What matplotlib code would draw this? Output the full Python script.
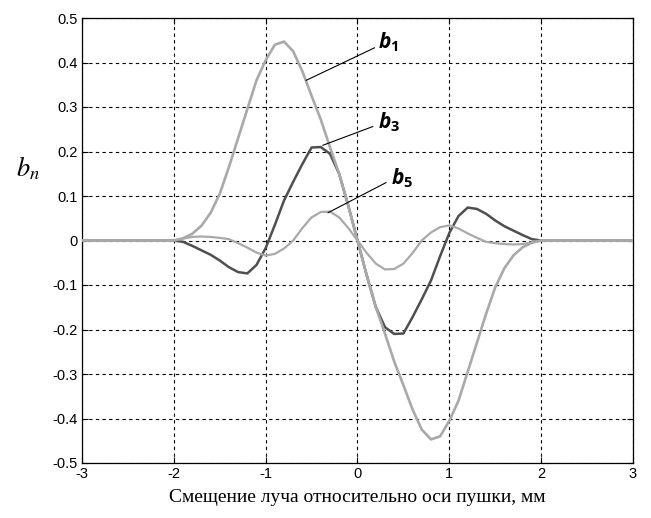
import matplotlib
matplotlib.use('Agg')
from matplotlib import pyplot as plt

# ----------------- Données ----------------- #
x = [-3.0, -2.0, -1.9, -1.8, -1.7, -1.6, -1.5, -1.4, -1.3, -1.2, -1.1, -1.0,
     -0.9, -0.8, -0.7, -0.6, -0.5, -0.4, -0.3, -0.2, -0.1, 0.0,
     0.1, 0.2, 0.3, 0.4, 0.5, 0.6, 0.7, 0.8, 0.9, 1.0,
     1.1, 1.2, 1.3, 1.4, 1.5, 1.6, 1.7, 1.8, 1.9, 2.0, 3.0]

b1 = [0.0, 0.0, 0.005, 0.015, 0.033, 0.062, 0.105, 0.165, 0.23, 0.295, 0.36, 0.405,
      0.44, 0.447, 0.425, 0.38, 0.325, 0.272, 0.21, 0.15, 0.078, 0.0,
      -0.078, -0.15, -0.21, -0.272, -0.325, -0.38, -0.425, -0.447, -0.44, -0.405,
      -0.36, -0.295, -0.23, -0.165, -0.105, -0.062, -0.033, -0.015, -0.005, 0.0, 0.0]

b3 = [0.0, 0.0, -0.003, -0.012, -0.022, -0.032, -0.045, -0.06, -0.071, -0.074, -0.055, -0.017,
      0.035, 0.09, 0.132, 0.172, 0.209, 0.21, 0.195, 0.15, 0.078, 0.0,
      -0.078, -0.15, -0.195, -0.21, -0.209, -0.172, -0.132, -0.09, -0.035, 0.017,
      0.055, 0.074, 0.071, 0.06, 0.045, 0.032, 0.022, 0.012, 0.003, 0.0, 0.0]

b5 = [0.0, 0.0, 0.004, 0.008, 0.009, 0.008, 0.006, 0.003, -0.006, -0.016, -0.027, -0.034,
      -0.03, -0.018, 0.0, 0.028, 0.052, 0.064, 0.065, 0.052, 0.028, 0.0,
      -0.028, -0.052, -0.065, -0.064, -0.052, -0.028, 0.0, 0.018, 0.03, 0.034,
      0.027, 0.016, 0.006, -0.003, -0.006, -0.008, -0.009, -0.008, -0.004, 0.0, 0.0]

x_ticks = [-3, -2, -1, 0, 1, 2, 3]
y_ticks = [-0.5, -0.4, -0.3, -0.2, -0.1, 0, 0.1, 0.2, 0.3, 0.4, 0.5]
y_ticklabels = ['-0.5', '-0.4', '-0.3', '-0.2', '-0.1', '0', '0.1', '0.2', '0.3', '0.4', '0.5']

# ----------------- Style ----------------- #
plt.rcParams['font.family'] = ['Liberation Sans', 'DejaVu Sans']
plt.rcParams['mathtext.fontset'] = 'custom'
plt.rcParams['mathtext.it'] = 'Open Sans:italic:bold'
plt.rcParams['mathtext.rm'] = 'Open Sans:bold'

fig = plt.figure(figsize=(6.51, 5.18), dpi=100)
ax = fig.add_axes([82 / 651, 1 - 463 / 518, (633 - 82) / 651, (463 - 18) / 518])

light = '#a9a9a9'
dark = '#4f4f4f'
ax.plot(x, b3, color=dark, lw=1.8, zorder=3)
ax.plot(x, b1, color=light, lw=1.9, zorder=4)
ax.plot(x, b5, color=light, lw=1.6, zorder=4)

ax.set_xlim(-3, 3)
ax.set_ylim(-0.5, 0.5)
ax.set_xticks(x_ticks)
ax.set_xticklabels([str(v) for v in x_ticks])
ax.set_yticks(y_ticks)
ax.set_yticklabels(y_ticklabels)
ax.grid(True, color='black', linestyle=(0, (3, 3)), linewidth=0.8)
ax.tick_params(direction='in', top=True, right=True, length=4,
               labelsize=10.5, pad=3)
for s in ax.spines.values():
    s.set_linewidth(0.9)

# annotations b1, b3, b5
ax.plot([-0.558, 0.185], [0.36, 0.433], color='black', lw=0.8, zorder=5)
ax.plot([-0.377, 0.166], [0.214, 0.256], color='black', lw=0.8, zorder=5)
ax.plot([-0.32, 0.31], [0.0625, 0.13], color='black', lw=0.8, zorder=5)
ax.text(0.22, 0.445, r'$b_1$', fontsize=15, va='center', ha='left')
ax.text(0.22, 0.266, r'$b_3$', fontsize=15, va='center', ha='left')
ax.text(0.36, 0.14, r'$b_5$', fontsize=15, va='center', ha='left')

ax.set_xlabel('Смещение луча относительно оси пушки, мм',
              family=['Liberation Serif', 'DejaVu Serif'], fontsize=14, labelpad=6)
fig.text(28 / 651, 1 - 168 / 518, r'$b_n$', fontsize=19, ha='center', va='center',
         math_fontfamily='stix')

fig.savefig('out.png', dpi=100)
